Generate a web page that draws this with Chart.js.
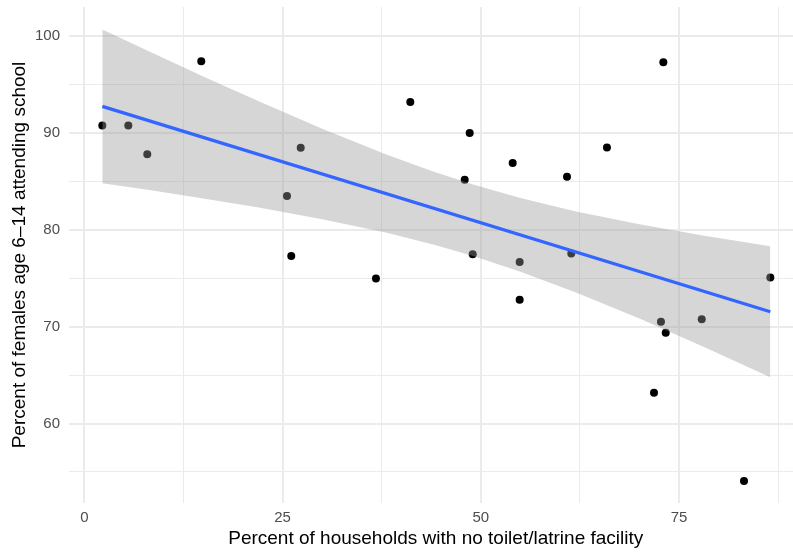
<!DOCTYPE html>
<html>
<head>
<meta charset="utf-8">
<script src="https://cdn.jsdelivr.net/npm/chart.js@4/dist/chart.umd.min.js"></script>
<style>
  html, body { margin: 0; padding: 0; background: #ffffff; }
  #wrap { width: 793px; height: 553px; position: relative; }
</style>
</head>
<body>
<div id="wrap"><canvas id="c" width="793" height="553"></canvas></div>
<script>
// Scatter points (x: % households with no toilet/latrine, y: % females 6-14 attending school)
const pointX = [2.27, 5.55, 7.94, 14.75, 25.56, 26.10, 27.29, 36.78, 41.11, 47.97, 48.60, 48.98, 54.02,
                54.90, 54.90, 60.87, 61.41, 65.91, 71.84, 72.72, 73.02, 73.32, 77.86, 83.19, 86.51];
const pointY = [90.75, 90.75, 87.76, 97.36, 83.46, 77.27, 88.44, 74.96, 93.16, 85.14, 89.96, 77.47, 86.86,
                76.65, 72.76, 85.45, 77.54, 88.48, 63.16, 70.49, 97.25, 69.35, 70.76, 54.08, 75.07];

// Fitted line
const fitX = [2.27, 86.51];
const fitY = [92.71, 71.53];

// Confidence band
const bandX     = [2.27, 8, 15, 22, 30, 38, 44, 48.93, 55, 62, 70, 78, 86.51];
const bandUpper = [100.64, 98.44, 95.80, 93.23, 90.40, 87.77, 85.98, 84.67, 83.25, 81.87, 80.54, 79.39, 78.28];
const bandLower = [84.78, 84.10, 83.22, 82.27, 81.08, 79.69, 78.46, 77.29, 75.65, 73.51, 70.82, 67.95, 64.78];

// Ticks
const xMajorTicks = [0, 25, 50, 75];
const xMinorTicks = [12.5, 37.5, 62.5, 87.5];
const yMajorTicks = [60, 70, 80, 90, 100];
const yMinorTicks = [55, 65, 75, 85, 95];

const xTitle = 'Percent of households with no toilet/latrine facility';
const yTitle = 'Percent of females age 6\u201314 attending school';

const toXY = (xs, ys) => xs.map((x, i) => ({ x: x, y: ys[i] }));

Chart.defaults.font.family = '"Liberation Sans", Arial, Helvetica, sans-serif';

const gridCfg = (majors) => ({
  color: '#ebebeb',
  lineWidth: (ctx) => (ctx.tick && majors.includes(ctx.tick.value)) ? 2 : 1,
  drawTicks: false
});

new Chart(document.getElementById('c'), {
  type: 'scatter',
  data: {
    datasets: [
      {
        label: 'fit',
        data: toXY(fitX, fitY),
        showLine: true,
        borderColor: '#3366FF',
        borderWidth: 3.3,
        pointRadius: 0,
        fill: false,
        order: 0
      },
      {
        label: 'upper',
        data: toXY(bandX, bandUpper),
        showLine: true,
        borderColor: 'rgba(0,0,0,0)',
        borderWidth: 0,
        pointRadius: 0,
        backgroundColor: 'rgba(153,153,153,0.4)',
        fill: '+1',
        order: 1
      },
      {
        label: 'lower',
        data: toXY(bandX, bandLower),
        showLine: true,
        borderColor: 'rgba(0,0,0,0)',
        borderWidth: 0,
        pointRadius: 0,
        fill: false,
        order: 1
      },
      {
        label: 'points',
        data: toXY(pointX, pointY),
        pointRadius: 4,
        pointBackgroundColor: '#000000',
        pointBorderWidth: 0,
        backgroundColor: '#000000',
        order: 2
      }
    ]
  },
  options: {
    responsive: false,
    animation: false,
    events: [],
    layout: { autoPadding: false, padding: { top: 7, left: 0, right: 0, bottom: 0 } },
    plugins: { legend: { display: false }, tooltip: { enabled: false } },
    scales: {
      x: {
        type: 'linear',
        min: -1.93,
        max: 89.37,
        afterBuildTicks: (s) => { s.ticks = xMajorTicks.concat(xMinorTicks).sort((a, b) => a - b).map(v => ({ value: v })); },
        afterFit: (s) => { s.height = 50; s.paddingLeft = 0; s.paddingRight = 0; },
        grid: gridCfg(xMajorTicks),
        border: { display: false },
        ticks: {
          autoSkip: false,
          maxRotation: 0,
          padding: 6,
          color: '#4d4d4d',
          font: { size: 15 },
          callback: (v) => xMajorTicks.includes(v) ? String(v) : ''
        },
        title: {
          display: true,
          text: '\u2002' + xTitle,
          color: '#000000',
          font: { size: 19 },
          padding: { top: 0, bottom: 3 }
        }
      },
      y: {
        type: 'linear',
        min: 51.8,
        max: 102.96,
        afterBuildTicks: (s) => { s.ticks = yMajorTicks.concat(yMinorTicks).sort((a, b) => a - b).map(v => ({ value: v })); },
        afterFit: (s) => { s.width = 69; s.paddingTop = 0; s.paddingBottom = 0; },
        grid: gridCfg(yMajorTicks),
        border: { display: false },
        ticks: {
          autoSkip: false,
          padding: 9,
          color: '#4d4d4d',
          font: { size: 15 },
          callback: (v) => yMajorTicks.includes(v) ? String(v) : ''
        },
        title: {
          display: true,
          text: yTitle,
          color: '#000000',
          font: { size: 19 },
          padding: { top: 8.5, bottom: 0 }
        }
      }
    }
  }
});
</script>
</body>
</html>
